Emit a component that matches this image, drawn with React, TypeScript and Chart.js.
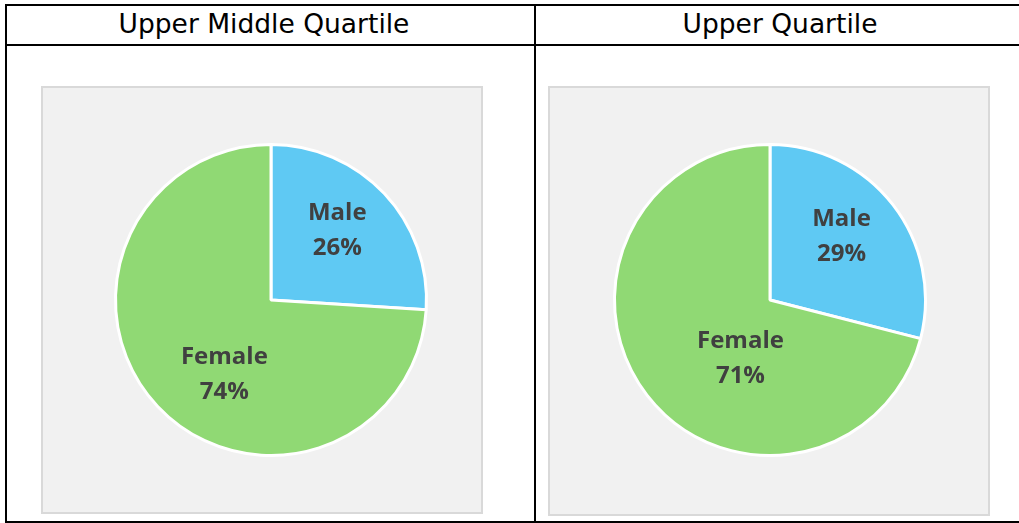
import React, { useEffect, useRef } from "react";
import { Chart, registerables } from "chart.js";

Chart.register(...registerables);

const categories = ["Male", "Female"];
const upperMiddleValues = [26, 74];
const upperValues = [29, 71];
const titles = ["Upper Middle Quartile", "Upper Quartile"];

const SLICE_COLORS = ["#5fc9f3", "#90d974"];

const labelPlugin = {
  id: "pieLabels",
  afterDatasetsDraw(chart: any, _args: any, opts: any) {
    const meta = chart.getDatasetMeta(0);
    const ctx = chart.ctx;
    const ds = chart.data.datasets[0];
    ctx.save();
    ctx.font = "bold 24px 'Open Sans'";
    ctx.fillStyle = "#404040";
    ctx.textAlign = "center";
    ctx.textBaseline = "middle";
    meta.data.forEach((arc: any, i: number) => {
      const { x, y, outerRadius } = arc.getProps(["x", "y", "outerRadius"], true);
      const off = opts.offsets[i];
      const lx = x + off[0] * outerRadius;
      const ly = y + off[1] * outerRadius;
      ctx.fillText(String(chart.data.labels[i]), lx, ly - opts.lineGap / 2);
      ctx.fillText(ds.data[i] + "%", lx, ly + opts.lineGap / 2);
    });
    ctx.restore();
  },
};

function PieChart(props: { values: number[]; offsets: number[][]; left: number; top: number }) {
  const ref = useRef<HTMLCanvasElement | null>(null);
  useEffect(() => {
    if (!ref.current) return;
    const chart = new Chart(ref.current, {
      type: "pie",
      data: {
        labels: categories,
        datasets: [
          {
            data: props.values,
            backgroundColor: SLICE_COLORS,
            borderColor: "#ffffff",
            borderWidth: 3,
          },
        ],
      },
      options: {
        animation: false,
        responsive: false,
        maintainAspectRatio: false,
        devicePixelRatio: 1,
        layout: { padding: 3 },
        plugins: {
          legend: { display: false },
          tooltip: { enabled: false },
          pieLabels: { offsets: props.offsets, lineGap: 35 },
        } as any,
      },
      plugins: [labelPlugin],
    });
    return () => chart.destroy();
  }, []);
  return (
    <canvas
      ref={ref}
      width={320}
      height={320}
      style={{ position: "absolute", left: props.left, top: props.top, width: 320, height: 320 }}
    />
  );
}

const line = (left: number, top: number, width: number, height: number) => (
  <div style={{ position: "absolute", left, top, width, height, background: "#000" }} />
);

const titleStyle = (center: number): React.CSSProperties => ({
  position: "absolute",
  left: center - 250,
  width: 500,
  top: 5,
  height: 38,
  lineHeight: "38px",
  textAlign: "center",
  fontFamily: "'DejaVu Sans', Verdana, sans-serif",
  fontSize: 26.5,
  color: "#000",
});

const boxStyle = (left: number, top: number, width: number, height: number): React.CSSProperties => ({
  position: "absolute",
  left,
  top,
  width,
  height,
  boxSizing: "border-box",
  border: "2px solid #d9d9d9",
  background: "#f1f1f1",
});

export default function App() {
  return (
    <div style={{ position: "absolute", left: 0, top: 0, width: 1019, height: 523, background: "#fff", overflow: "hidden" }}>
      <div style={boxStyle(41, 86, 442, 428)} />
      <div style={boxStyle(548, 86, 442, 430)} />
      <div style={titleStyle(264)}>{titles[0]}</div>
      <div style={titleStyle(780)}>{titles[1]}</div>
      <PieChart values={upperMiddleValues} offsets={[[0.426, -0.445], [-0.3, 0.477]]} left={111} top={140} />
      <PieChart values={upperValues} offsets={[[0.46, -0.41], [-0.19, 0.38]]} left={610} top={140} />
      {line(5, 4, 1014, 2)}
      {line(5, 44, 1014, 2)}
      {line(5, 521, 1014, 2)}
      {line(5, 4, 2, 519)}
      {line(534, 4, 2, 519)}
    </div>
  );
}
